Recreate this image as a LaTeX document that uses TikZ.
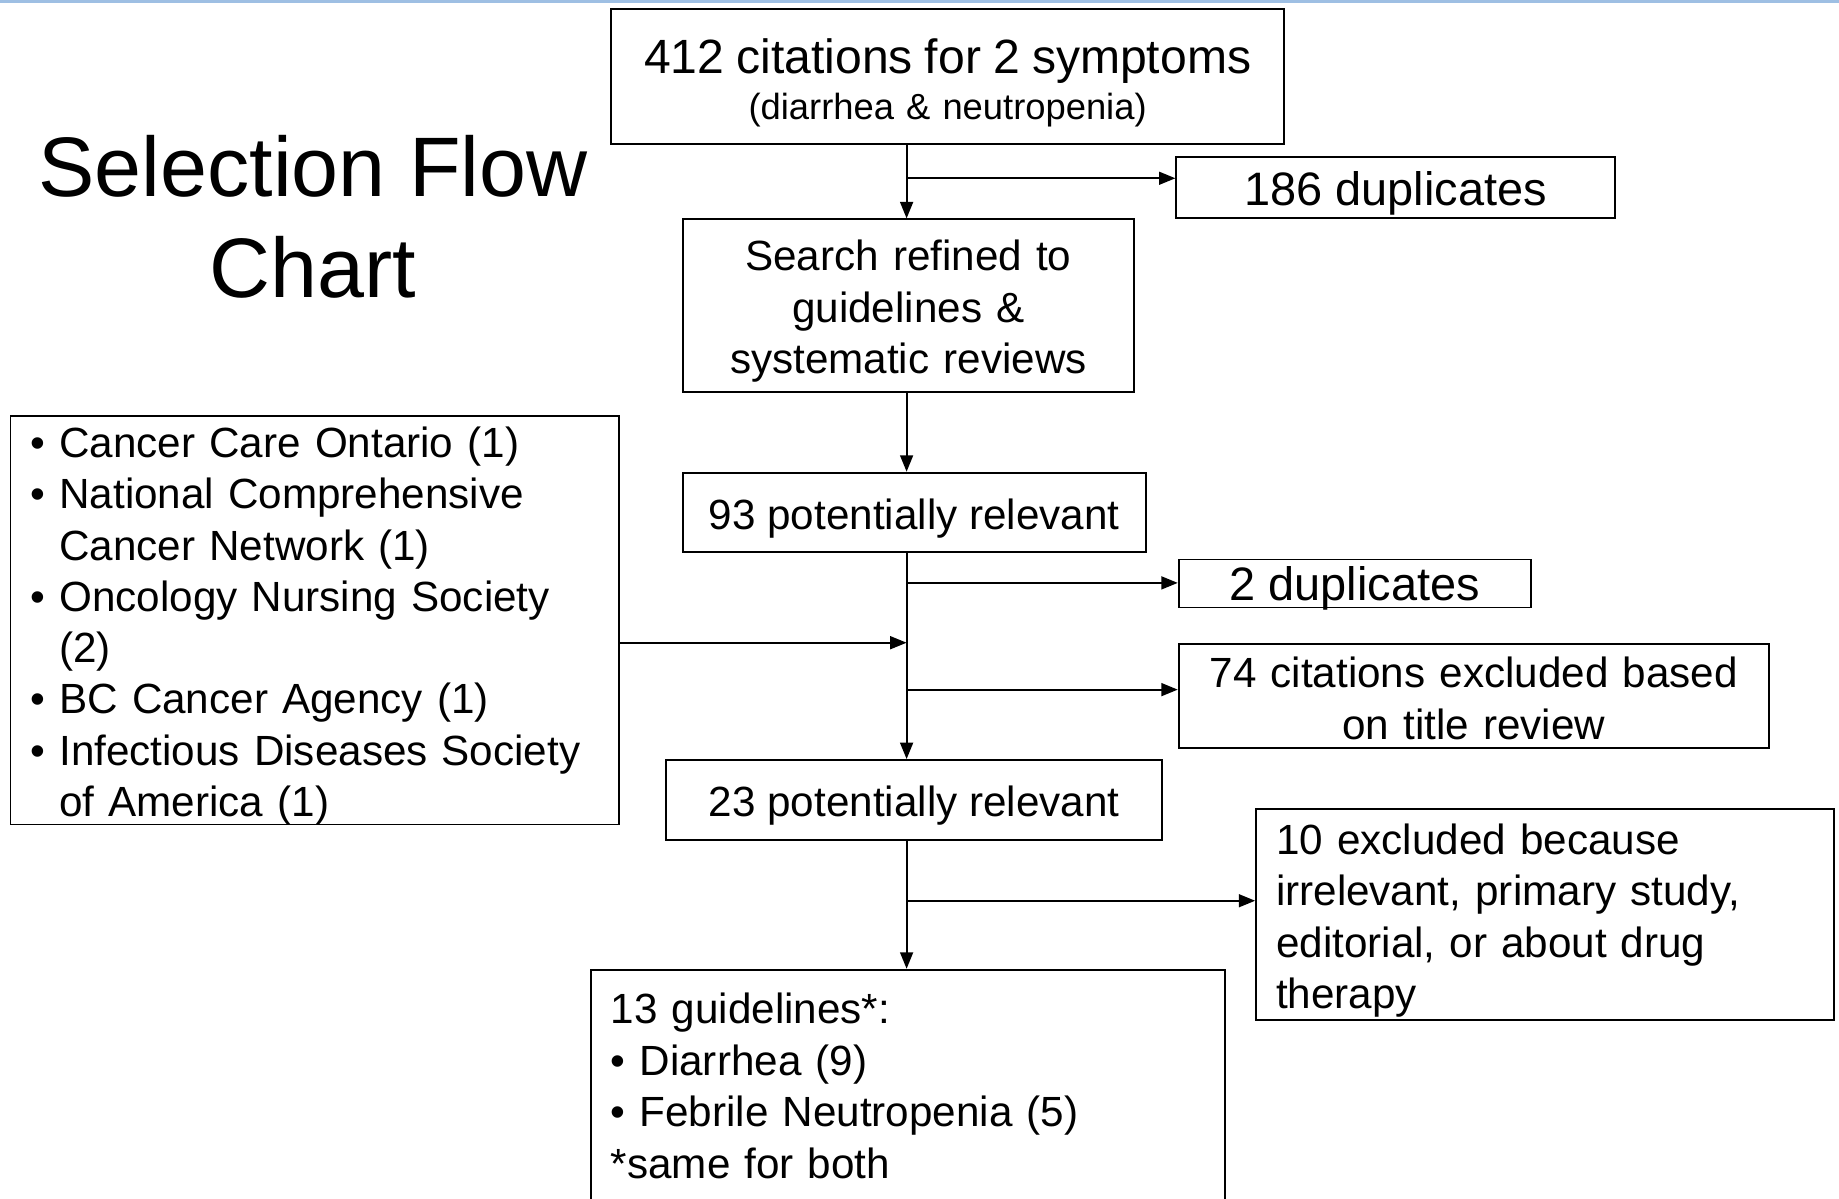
\documentclass[tikz,border=0pt]{standalone}
\usepackage{fontspec}
\setmainfont{Liberation Sans}
\usetikzlibrary{arrows.meta}
\definecolor{topblue}{RGB}{158,191,227}
\begin{document}
\begin{tikzpicture}[x=1pt,y=-1pt,
  box/.style={draw, line width=1.6pt, rectangle, inner sep=0pt, align=center, font=\fontsize{36}{44}\selectfont},
  arr/.style={line width=1.6pt, -{Triangle[length=14pt,width=11pt]}}]
\useasboundingbox (0,0) rectangle (1568,1022);
\clip (0,0) rectangle (1568,1022);
\fill[white] (0,0) rectangle (1568,1022);
\draw[topblue, line width=2.5pt] (0,1) -- (1568,1);

\node[font=\fontsize{72}{86}\selectfont, align=center] (title) at (267,185) {Selection Flow\\Chart};

\node[box, minimum width=574pt, text width=574pt, minimum height=115pt, font=\fontsize{31}{39}\selectfont, text height=40pt] (top) at (808,65.5)
  {{\fontsize{41}{39}\selectfont 412 citations for 2 symptoms}\\(diarrhea \& neutropenia)};
\node[box, minimum width=374pt, minimum height=52pt, font=\fontsize{40}{44}\selectfont, text height=39pt] (dup1) at (1190,160) {186 duplicates};
\node[box, minimum width=385pt, text width=385pt, minimum height=147pt, text height=36pt] (search) at (774.5,260.5) {Search refined to\\guidelines \&\\systematic reviews};
\node[box, minimum width=395pt, minimum height=68pt, text height=36pt] (n93) at (779.5,437) {93 potentially relevant};
\node[box, minimum width=300pt, minimum height=41pt, font=\fontsize{40}{44}\selectfont, text depth=0pt] (dup2) at (1155,497.5) {2 duplicates};
\node[box, minimum width=503pt, text width=503pt, minimum height=89pt, text height=30pt] (excl74) at (1256.5,593.5) {74 citations excluded based\\on title review};
\node[box, text width=485pt, inner xsep=17pt, minimum height=348pt, align=left, font=\fontsize{36}{43.7}\selectfont, text height=30.4pt, text depth=308pt] (orgs) at (268.5,529)
  {• Cancer Care Ontario (1)\\• National Comprehensive\\\hphantom{• }Cancer Network (1)\\• Oncology Nursing Society\\\hphantom{• }(2)\\• BC Cancer Agency (1)\\• Infectious Diseases Society\\\hphantom{• }of America (1)};
\node[box, minimum width=423pt, minimum height=68pt, text height=36pt] (n23) at (779.5,682) {23 potentially relevant};
\node[box, text width=459pt, inner xsep=17pt, minimum height=180pt, align=left, text height=36pt] (excl10) at (1317.5,780)
  {10 excluded because\\irrelevant, primary study,\\editorial, or about drug\\therapy};
\node[box, anchor=north west, text width=507pt, inner xsep=17pt, inner ysep=20pt, align=left, text depth=200pt] (n13) at (503,826)
  {13 guidelines*:\\• Diarrhea (9)\\• Febrile Neutropenia (5)\\{}*same for both};

\coordinate (sx) at (773,0);
\coordinate (b1) at (773,152);
\coordinate (b2) at (773,497);
\coordinate (m) at (773,548);
\coordinate (b3) at (773,588);
\coordinate (b4) at (773,768);
\draw[arr] (top.south -| sx) -- (search.north -| sx);
\draw[arr] (b1) -- (b1 -| dup1.west);
\draw[arr] (search.south -| sx) -- (n93.north -| sx);
\draw[arr] (n93.south -| sx) -- (n23.north -| sx);
\draw[arr] (b2) -- (b2 -| dup2.west);
\draw[arr] (m -| orgs.east) -- (m);
\draw[arr] (b3) -- (b3 -| excl74.west);
\draw[arr] (n23.south -| sx) -- (n13.north -| sx);
\draw[arr] (b4) -- (b4 -| excl10.west);
\end{tikzpicture}
\end{document}
